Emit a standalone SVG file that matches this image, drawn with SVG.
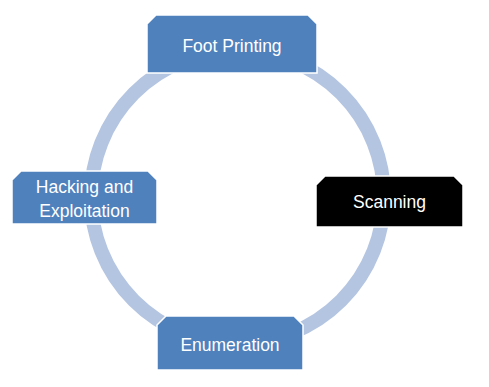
<svg xmlns="http://www.w3.org/2000/svg" width="489" height="387" viewBox="0 0 489 387">
<style>
.box{fill:#4f81bd;stroke:#ffffff;stroke-width:1.5}
.dark{fill:#000000;stroke:#ffffff;stroke-width:1.5}
.lbl{font-family:"Liberation Sans",Arial,sans-serif;font-size:17.5px;fill:#ffffff;text-anchor:middle}
.ring{fill:none;stroke:#b4c5e2;stroke-width:14}
</style>
<rect width="489" height="387" fill="#ffffff"/>
<g id="connectors">
<circle class="ring" cx="237.5" cy="197" r="146.5"/>
</g>
<g id="foot-printing">
<path class="box" d="M156,15 H308 L317,24 V73 H147 V24 Z"/>
<text class="lbl" x="232" y="52">Foot Printing</text>
</g>
<g id="scanning">
<path class="dark" d="M325,176 H454 L463,185 V227 H316 V185 Z"/>
<text class="lbl" x="389.5" y="208">Scanning</text>
</g>
<g id="enumeration">
<path class="box" d="M166,316 H294 L303,325 V370 H157 V325 Z"/>
<text class="lbl" x="230" y="351">Enumeration</text>
</g>
<g id="hacking">
<path class="box" d="M21,171 H148 L157,180 V224 H12 V180 Z"/>
<text class="lbl" x="84.5" y="193">Hacking and</text>
<text class="lbl" x="84.5" y="217">Exploitation</text>
</g>
</svg>
